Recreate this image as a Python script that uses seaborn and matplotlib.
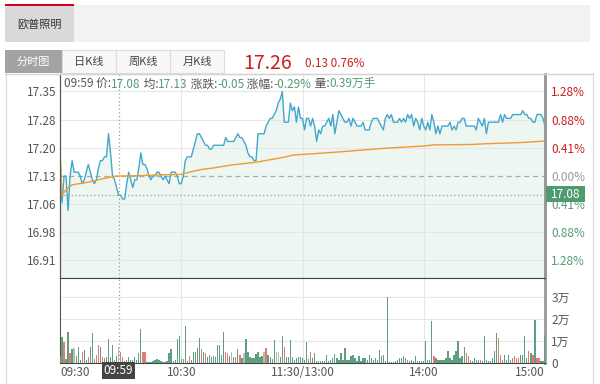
import numpy as np
import pandas as pd
import matplotlib
matplotlib.use("Agg")
import matplotlib.pyplot as plt
import seaborn as sns
from matplotlib.patches import Rectangle
from matplotlib.lines import Line2D

# intraday data, one value per minute (0 = 09:30, 120 = 11:30/13:00, 240 = 15:00)
prev_close = 17.13
last_price = 17.26
change = "0.13"
change_pct = "0.76%"

price = [
    17.19, 17.06, 17.13, 17.13, 17.04, 17.13, 17.17, 17.14, 17.14, 17.14,
    17.13, 17.11, 17.12, 17.14, 17.16, 17.14, 17.12, 17.11, 17.12, 17.15,
    17.17, 17.17, 17.18, 17.18, 17.24, 17.19, 17.13, 17.12, 17.10, 17.08,
    17.08, 17.07, 17.07, 17.11, 17.14, 17.12, 17.10, 17.12, 17.12, 17.15,
    17.19, 17.16, 17.16, 17.15, 17.13, 17.12, 17.13, 17.13, 17.14, 17.14,
    17.13, 17.12, 17.13, 17.12, 17.11, 17.14, 17.14, 17.14, 17.13, 17.11,
    17.11, 17.13, 17.17, 17.18, 17.18, 17.18, 17.20, 17.22, 17.24, 17.24,
    17.23, 17.22, 17.21, 17.21, 17.20, 17.20, 17.21, 17.21, 17.21, 17.21,
    17.21, 17.21, 17.23, 17.22, 17.22, 17.22, 17.22, 17.23, 17.24, 17.23,
    17.23, 17.22, 17.21, 17.19, 17.18, 17.18, 17.17, 17.17, 17.24, 17.24,
    17.24, 17.24, 17.26, 17.27, 17.28, 17.28, 17.29, 17.30, 17.32, 17.33,
    17.35, 17.27, 17.27, 17.27, 17.32, 17.30, 17.31, 17.27, 17.31, 17.28,
    17.28, 17.25, 17.28, 17.28, 17.26, 17.28, 17.26, 17.22, 17.25, 17.24,
    17.26, 17.26, 17.27, 17.28, 17.26, 17.29, 17.24, 17.27, 17.30, 17.29,
    17.28, 17.27, 17.27, 17.28, 17.26, 17.28, 17.27, 17.26, 17.26, 17.26,
    17.27, 17.25, 17.25, 17.25, 17.27, 17.28, 17.28, 17.28, 17.27, 17.26,
    17.25, 17.28, 17.29, 17.28, 17.29, 17.27, 17.27, 17.27, 17.28, 17.27,
    17.28, 17.27, 17.29, 17.28, 17.29, 17.26, 17.28, 17.27, 17.25, 17.28,
    17.26, 17.25, 17.27, 17.25, 17.29, 17.27, 17.24, 17.26, 17.24, 17.26,
    17.26, 17.26, 17.26, 17.27, 17.25, 17.26, 17.25, 17.27, 17.27, 17.28,
    17.28, 17.26, 17.26, 17.26, 17.26, 17.26, 17.25, 17.28, 17.27, 17.26,
    17.28, 17.24, 17.27, 17.27, 17.27, 17.27, 17.27, 17.27, 17.29, 17.27,
    17.29, 17.28, 17.28, 17.28, 17.29, 17.29, 17.29, 17.29, 17.29, 17.30,
    17.29, 17.29, 17.28, 17.28, 17.27, 17.27, 17.29, 17.29, 17.29, 17.28,
    17.26,
]

avg_minutes = [0, 1, 3, 6, 14, 22, 28, 40, 50, 60, 64, 70, 76, 84, 97, 109,
               116, 120, 139, 160, 180, 185, 203, 211, 228, 240]
avg_price = [17.19, 17.08, 17.095, 17.107, 17.114, 17.124, 17.13, 17.131,
             17.133, 17.134, 17.14, 17.147, 17.151, 17.158, 17.166, 17.177,
             17.185, 17.186, 17.193, 17.202, 17.208, 17.211, 17.212, 17.214,
             17.217, 17.221]

# volume in 万
volume = [
    0.30, 1.17, 0.97, 0.20, 1.42, 0.44, 0.62, 0.67, 0.32, 0.74,
    0.15, 0.52, 0.59, 0.12, 0.29, 0.74, 1.38, 0.20, 0.36, 0.82,
    0.74, 0.29, 0.21, 0.29, 1.08, 0.29, 0.82, 0.14, 0.32, 0.74,
    0.52, 0.29, 0.10, 0.14, 0.29, 0.14, 0.14, 0.29, 0.14, 0.44,
    1.53, 0.52, 0.52, 0.06, 0.06, 0.06, 0.10, 0.14, 0.20, 0.14,
    0.10, 0.06, 0.06, 0.10, 0.44, 0.62, 0.10, 0.14, 1.08, 1.23,
    0.20, 0.16, 1.68, 0.10, 0.32, 0.14, 0.52, 0.52, 0.67, 1.15,
    0.62, 0.52, 0.44, 0.29, 0.36, 0.29, 0.32, 0.29, 0.82, 0.82,
    0.36, 1.42, 0.52, 0.44, 0.32, 0.52, 0.29, 0.29, 0.62, 0.36,
    0.21, 0.44, 1.08, 0.52, 0.29, 0.21, 0.21, 0.40, 0.52, 0.29,
    0.32, 0.52, 0.67, 0.36, 0.29, 0.16, 1.05, 0.52, 0.52, 0.29,
    1.23, 0.74, 0.29, 0.29, 1.05, 0.29, 0.14, 0.21, 0.29, 0.29,
    0.23, 0.15, 0.95, 0.20, 0.50, 0.23, 0.45, 0.10, 0.08, 0.08,
    0.08, 0.10, 0.35, 0.08, 0.15, 0.23, 0.41, 0.23, 0.15, 0.45,
    0.15, 0.68, 0.15, 0.15, 0.30, 0.38, 0.23, 0.10, 0.30, 0.10,
    0.23, 0.23, 0.15, 0.38, 0.23, 0.15, 0.23, 0.15, 0.60, 0.30,
    0.38, 0.08, 2.98, 0.04, 0.04, 0.05, 0.10, 0.15, 0.23, 0.23,
    0.30, 0.23, 0.15, 0.08, 0.15, 0.08, 0.30, 0.08, 0.08, 0.10,
    0.08, 0.98, 0.15, 0.15, 1.92, 0.30, 0.23, 0.15, 0.15, 0.15,
    0.15, 0.23, 0.56, 0.23, 0.15, 0.38, 0.53, 0.98, 0.23, 0.30,
    0.71, 0.45, 0.30, 0.15, 0.08, 0.23, 0.15, 0.15, 0.15, 0.08,
    1.21, 0.15, 0.08, 0.10, 0.23, 0.53, 1.36, 1.14, 0.38, 0.15,
    0.38, 0.15, 0.38, 0.15, 0.23, 0.30, 0.23, 0.23, 0.38, 0.38,
    1.21, 0.23, 0.53, 0.45, 0.38, 1.97, 0.23, 0.23, 0.08, 0.10,
    1.29,
]
red_minutes = [2, 5, 11, 14, 17, 18, 19, 21, 22, 30, 31, 41, 42, 64, 70, 72,
               82, 83, 87, 89, 102, 111, 124, 172, 185, 201, 202, 208, 217,
               218, 224, 225, 226, 227, 232, 234, 236, 237]
gray_minutes = [7, 29, 85, 91, 101, 107, 108]

price_ticks = ["17.35", "17.28", "17.20", "17.13", "17.06", "16.98", "16.91"]
pct_ticks = ["1.28%", "0.88%", "0.41%", "0.00%", "0.41%", "0.88%", "1.28%"]
vol_ticks = ["0", "1万", "2万", "3万"]
time_minutes = [0, 60, 120, 180, 240]
time_labels = ["09:30", "10:30", "11:30/13:00", "14:00", "15:00"]
tabs = ["分时图", "日K线", "周K线", "月K线"]
stock_name = "欧普照明"
cursor_minute = 29
cursor_time = "09:59"
cursor_info = [("09:59 价:", 0), ("17.08", 1), (" 均:", 0), ("17.13", 1),
               (" 涨跌:", 0), ("-0.05", 1), (" 涨幅:", 0), ("-0.29%", 1),
               (" 量:", 0), ("0.39万手", 1)]

sns.set_style("white")
plt.rcParams["font.family"] = ["Noto Sans CJK SC", "DejaVu Sans"]

RED = "#c9201f"
GREEN = "#559c74"
BLUE = "#41a8cc"
ORANGE = "#f09a30"
GRID = "#e6e6e6"
TXT = "#555555"

W, H = 600, 384
fig = plt.figure(figsize=(6, 3.84), dpi=100)


def box(x0, y0, x1, y1):
    return [x0 / W, 1 - y1 / H, (x1 - x0) / W, (y1 - y0) / H]


def rect(x0, y0, x1, y1, fc, ec="none", z=1):
    fig.patches.append(Rectangle((x0 / W, 1 - y1 / H), (x1 - x0) / W, (y1 - y0) / H,
                                 transform=fig.transFigure, facecolor=fc,
                                 edgecolor=ec, lw=0.8, zorder=z))


def line(xs, ys, c, lw=1):
    fig.lines.append(Line2D([x / W for x in xs], [1 - y / H for y in ys],
                            transform=fig.transFigure, color=c, lw=lw))


# header
rect(5, 5, 590, 42, "#f2f2f2")
rect(5, 5, 74, 42, "#d9d9d9")
rect(5, 4, 74, 6, "#d0021b", z=2)
fig.text(39 / W, 1 - 24 / H, stock_name, ha="center", va="center", fontsize=8, color="#333")

# tabs
tab_x = [5, 62, 116, 170, 224]
for i, name in enumerate(tabs):
    if i == 0:
        rect(tab_x[i], 50, tab_x[i + 1], 73, "#a3a3a3")
        col = "white"
    else:
        rect(tab_x[i], 50, tab_x[i + 1], 73, "#f8f8f8", ec="#dcdcdc")
        col = "#444"
    fig.text((tab_x[i] + tab_x[i + 1]) / 2 / W, 1 - 62 / H, name, ha="center",
             va="center", fontsize=8, color=col)
fig.text(243 / W, 1 - 69 / H, f"{last_price:.2f}", fontsize=14, color=RED, va="baseline")
fig.text(305 / W, 1 - 67 / H, f"{change} {change_pct}", fontsize=8.5, color=RED, va="baseline")

# frame
line([5.5, 5.5], [73, 384], "#dddddd")
line([592.5, 592.5], [73, 384], "#dddddd")
line([5, 593], [73.5, 73.5], "#d5d5d5")

minutes = np.arange(len(price))
df = pd.DataFrame({"minute": minutes, "price": price, "volume": volume})
avg_df = pd.DataFrame({"minute": avg_minutes, "avg": avg_price})

tick_vals = np.linspace(float(price_ticks[-1]), float(price_ticks[0]), len(price_ticks))[::-1]
half = (tick_vals[0] - prev_close) * 102 / 84.5
ylo, yhi = prev_close - half, prev_close + half

ax = fig.add_axes(box(60, 74, 545, 278))
axv = fig.add_axes(box(60, 278, 545, 363))

# price panel
ax.fill_between(df["minute"], df["price"], ylo, color="#eef6f1", lw=0, zorder=1)
for v in tick_vals:
    if abs(v - prev_close) > 1e-6:
        ax.axhline(v, color=GRID, lw=0.8, zorder=1.5)
ax.axhline(prev_close, color="#aaaaaa", lw=0.9, ls=(0, (4, 3)), zorder=1.5)
for m in time_minutes[1:-1]:
    ax.axvline(m, color=GRID, lw=0.8, zorder=1.5)
    axv.axvline(m, color=GRID, lw=0.8, zorder=1.5)
sns.lineplot(data=df, x="minute", y="price", ax=ax, color=BLUE, lw=1, zorder=3)
sns.lineplot(data=avg_df, x="minute", y="avg", ax=ax, color=ORANGE, lw=1, zorder=3)
cur_price = price[cursor_minute]
ax.axhline(cur_price, color="#999999", lw=0.9, ls=(0, (1, 2)), zorder=2)
ax.axvline(cursor_minute, color="#999999", lw=0.9, ls=(0, (1, 2)), zorder=2)
ax.set_xlim(0, 240)
ax.set_ylim(ylo, yhi)
ax.set_xticks([])
ax.set_yticks(tick_vals)
ax.set_yticklabels(price_ticks)
ax.tick_params(axis="y", length=0, pad=2.5, labelsize=8.5, labelcolor=TXT)
ax.set_xlabel("")
ax.set_ylabel("")

ax2 = ax.twinx()
ax2.set_ylim(ylo, yhi)
ax2.set_yticks(tick_vals)
ax2.set_yticklabels(pct_ticks)
ax2.tick_params(axis="y", length=0, pad=4.5, labelsize=8.5)
for i, t in enumerate(ax2.get_yticklabels()):
    t.set_color(RED if i < 3 else ("#999999" if i == 3 else GREEN))

for a in (ax, ax2):
    a.spines["left"].set_color("#555555")
    a.spines["right"].set_color("#999999")
    a.spines["right"].set_linewidth(2)
    a.spines["top"].set_color("#d5d5d5")
    a.spines["bottom"].set_color("#444444")

# volume panel
colors = []
for m in minutes:
    if m in red_minutes:
        colors.append("#e07a72")
    elif m in gray_minutes:
        colors.append("#b5c0b5")
    else:
        colors.append("#5f9e80")
axv.bar(df["minute"], df["volume"], width=0.65, color=colors, lw=0, zorder=3)
for v in range(1, 4):
    axv.axhline(v, color=GRID, lw=0.8, zorder=1.5)
axv.axvline(cursor_minute, color="#999999", lw=0.9, ls=(0, (1, 2)), zorder=2)
axv.set_xlim(0, 240)
axv.set_ylim(0, 85 / 22)
axv.set_yticks(range(len(vol_ticks)))
axv.set_yticklabels(vol_ticks)
axv.yaxis.tick_right()
axv.tick_params(axis="y", length=0, pad=4.5, labelsize=8.5, labelcolor=TXT)
axv.set_xticks([])
axv.spines["left"].set_color("#555555")
axv.spines["right"].set_color("#999999")
axv.spines["right"].set_linewidth(2)
axv.spines["top"].set_visible(False)
axv.spines["bottom"].set_color("#444444")

tr = axv.get_xaxis_transform()
for m, lab in zip(time_minutes, time_labels):
    ha = "left" if m == time_minutes[0] else ("right" if m == time_minutes[-1] else "center")
    axv.text(m, -0.03, lab, transform=tr, ha=ha, va="top", fontsize=8.5, color=TXT)
axv.text(cursor_minute, -0.01, cursor_time, transform=tr, ha="center", va="top",
         fontsize=8.5, color="white", zorder=6,
         bbox=dict(boxstyle="square,pad=0.15", fc="#444444", ec="none"))

# current price box
rect(546, 186, 585, 202, "#4f9a6f", z=5)
fig.text(565.5 / W, 1 - 194 / H, f"{cur_price:.2f}", ha="center", va="center",
         fontsize=8.5, color="white", zorder=6)

# cursor info line, pieces chained one after another
prev = fig.text(64 / W, 1 - 84 / H, cursor_info[0][0], fontsize=8.5, color=TXT,
                va="center", zorder=6)
for s, g in cursor_info[1:]:
    prev = ax.annotate(s, xy=(1, 0), xycoords=prev, va="bottom", ha="left",
                       fontsize=8.5, color=GREEN if g else TXT, annotation_clip=False)

fig.savefig("out.png", dpi=100)
